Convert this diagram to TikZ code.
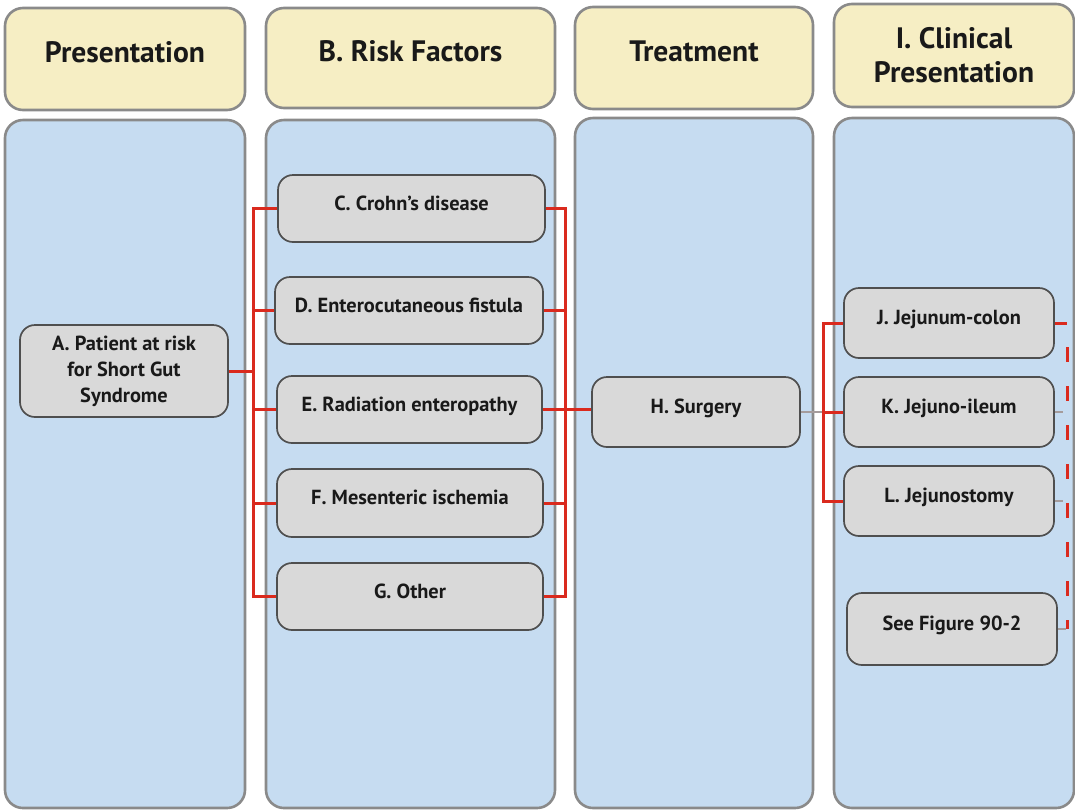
\documentclass[tikz,border=0pt]{standalone}
\usepackage{fontspec}
\setmainfont{PT Sans}
\usetikzlibrary{positioning}

\definecolor{colblue}{HTML}{C6DCF1}
\definecolor{colgrey}{HTML}{8A8A8A}
\definecolor{headyellow}{HTML}{F6EEC4}
\definecolor{itemgrey}{HTML}{D9D9D9}
\definecolor{itemedge}{HTML}{4F4F4F}
\definecolor{linkred}{HTML}{DA2A1E}
\definecolor{stubgrey}{HTML}{A59C9C}

% one pixel of the layout grid
\newlength\px
\setlength\px{0.025cm}

\tikzset{
    column/.style = {rounded corners=18\px,
                    fill=colblue,
                    draw=colgrey,
                    line width=2.6\px},
    head/.style =   {rectangle,
                    rounded corners=18\px,
                    fill=headyellow,
                    draw=colgrey,
                    line width=2.6\px,
                    text=black!90,
                    align=center,
                    font=\fontsize{21}{24}\selectfont\bfseries},
    headrow/.style ={text height=15pt,
                    text depth=9.5pt},
    item/.style =   {rectangle,
                    rounded corners=15\px,
                    fill=itemgrey,
                    draw=itemedge,
                    line width=1.7\px,
                    text=black!90,
                    align=center,
                    font=\fontsize{14.5}{18.5}\selectfont\bfseries},
    oneline/.style ={text height=11pt,
                    text depth=8.6pt},
    dims/.style 2 args = {minimum width=#1\px,
                    minimum height=#2\px},
    -,
    link/.style =   {draw=linkred,
                    line width=3\px},
    stub/.style =   {draw=stubgrey,
                    line width=2\px},
    dashlink/.style = {draw=linkred,
                    line width=3\px,
                    dash pattern=on 15\px off 24\px,
                    dash phase=15\px}}

\begin{document}
\begin{tikzpicture}[x=1\px,y=-1\px]
    \useasboundingbox (0,0) rectangle (1075,811);

    % column panels
    \draw[column] (5,120)   rectangle (245,808);
    \draw[column] (266,120) rectangle (555,808);
    \draw[column] (575,118) rectangle (813,808);
    \draw[column] (834,118) rectangle (1074,808);

    % column heads
    \node[head,headrow,dims={240}{102}] (hP) at (125,59)   {Presentation};
    \node[head,headrow,dims={289}{100}] (hB) at (410.5,58) {B. Risk Factors};
    \node[head,headrow,dims={238}{102}] (hT) at (694,58)   {Treatment};
    \node[head,dims={240}{103}]         (hI) at (954,55.5) {I. Clinical\\Presentation};

    % boxes
    \node[item,dims={208}{92}]                (A) at (124,371)     {A. Patient at risk\\for Short Gut\\Syndrome};
    \node[item,oneline,dims={267}{67}]        (C) at (411.5,208.5) {C. Crohn’s disease};
    \node[item,oneline,dims={268}{67}]        (D) at (409,310.5)   {D. Enterocutaneous fistula};
    \node[item,oneline,dims={265}{67}]        (E) at (409.5,409.5) {E. Radiation enteropathy};
    \node[item,oneline,dims={266}{68}]        (F) at (410,503)     {F. Mesenteric ischemia};
    \node[item,oneline,dims={266}{67}]        (G) at (410,596.5)   {G. Other};
    \node[item,oneline,dims={208}{70}]        (H) at (696,412)     {H. Surgery};
    \node[item,oneline,dims={210}{70}]        (J) at (949,323)     {J. Jejunum-colon};
    \node[item,oneline,dims={210}{70}]        (K) [below of=J, node distance=89\px] {K. Jejuno-ileum};
    \node[item,oneline,dims={210}{70}]        (L) [below of=K, node distance=89\px] {L. Jejunostomy};
    \node[item,oneline,dims={210}{72}]        (S) at (952,629)     {See Figure 90-2};

    % bus lines
    \coordinate (lbus) at (253,0);
    \coordinate (rbus) at (565,0);
    \coordinate (sbus) at (823,0);
    \coordinate (dbus) at (1067,0);

    \draw[link] (A.east) -- (A.east -| lbus);
    \draw[link] (C.west) -- (C.west -| lbus) -- (G.west -| lbus) -- (G.west);
    \foreach \n in {D,E,F}
        \draw[link] (\n.west) -- (\n.west -| lbus);

    \draw[link] (C.east) -- (C.east -| rbus) -- (G.east -| rbus) -- (G.east);
    \foreach \n in {D,F}
        \draw[link] (\n.east) -- (\n.east -| rbus);
    \draw[link] (E.east) -- (E.east -| H.west);

    \draw[stub] (H.east) -- (H.east -| sbus);
    \draw[link] (J.west) -- (J.west -| sbus) -- (L.west -| sbus) -- (L.west);
    \draw[link] (K.west) -- (K.west -| sbus);

    \draw[link] (J.east) -- (J.east -| dbus);
    \draw[dashlink] (J.east -| dbus) -- (S.east -| dbus);
    \foreach \n in {K,L,S}
        \draw[stub] (\n.east) -- ++(8,0);
\end{tikzpicture}
\end{document}
